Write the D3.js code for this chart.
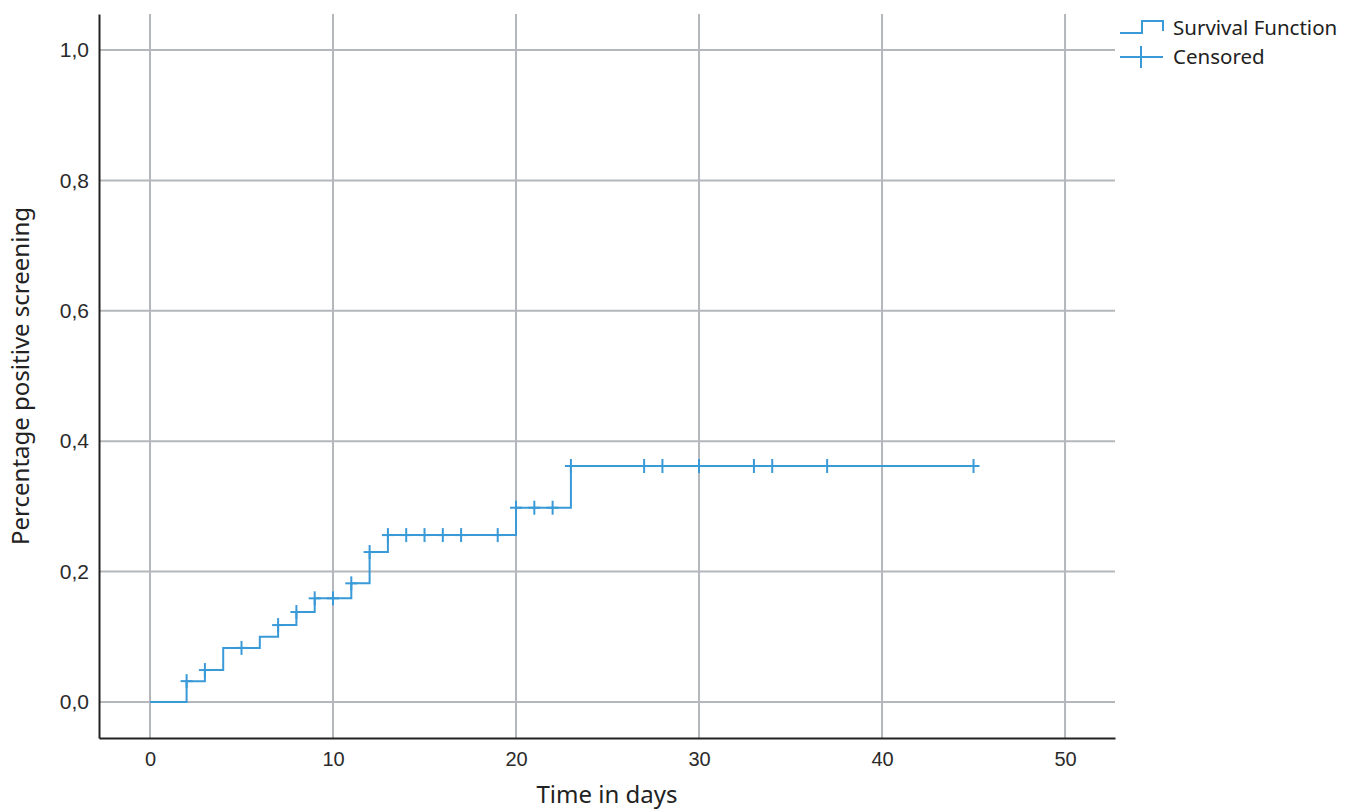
<!DOCTYPE html>
<html><head><meta charset="utf-8">
<script src="https://cdn.jsdelivr.net/npm/d3@7"></script>
<style>body{margin:0;background:#fff}</style>
</head><body>
<script>
const stepTimes  = [0, 2, 3, 4, 6, 7, 8, 9, 11, 12, 13, 20, 23];
const stepValues = [0, 0.032, 0.049, 0.083, 0.100, 0.118, 0.138, 0.159, 0.182, 0.230, 0.256, 0.298, 0.362];
const censoredTimes = [2, 3, 5, 7, 8, 9, 10, 11, 12, 13, 14, 15, 16, 17, 19, 20, 21, 22, 23, 27, 28, 30, 33, 34, 37, 45];
const endTime = 45;
const xTicks = [0, 10, 20, 30, 40, 50];
const yTicks = [0, 0.2, 0.4, 0.6, 0.8, 1.0];
const legendLabels = ["Survival Function", "Censored"];

const W = 1352, H = 811;
const col = "#3a9ad8", grid = "#b4b7bb";
const svg = d3.select("body").append("svg").attr("width", W).attr("height", H);

const x = d3.scaleLinear().domain([-2.787, 52.73]).range([99, 1115]);
const y = d3.scaleLinear().domain([-0.0552, 1.0552]).range([738, 14]);

// grid
svg.append("g").selectAll("line").data(xTicks).join("line")
  .attr("x1", d => x(d)).attr("x2", d => x(d)).attr("y1", 14).attr("y2", 738)
  .attr("stroke", grid).attr("stroke-width", 2);
svg.append("g").selectAll("line").data(yTicks).join("line")
  .attr("x1", 99).attr("x2", 1115).attr("y1", d => y(d)).attr("y2", d => y(d))
  .attr("stroke", grid).attr("stroke-width", 2);

// axes
const xAxis = d3.axisBottom(x).tickValues(xTicks).tickSize(0).tickPadding(14);
const gx = svg.append("g").attr("transform", "translate(0,738)").call(xAxis);
gx.select(".domain").attr("stroke", "#222").attr("stroke-width", 2);
gx.selectAll("text").style("font-family", "Liberation Sans, Arial, sans-serif").style("font-size", "20px").attr("fill", "#2a2a2a");

const fmt = d => d3.format(".1f")(d).replace(".", ",");
const yAxis = d3.axisLeft(y).tickValues(yTicks).tickFormat(fmt).tickSize(0).tickPadding(10);
const gy = svg.append("g").attr("transform", "translate(99,0)").call(yAxis);
gy.select(".domain").attr("stroke", "#222").attr("stroke-width", 2);
gy.selectAll("text").style("font-family", "Liberation Sans, Arial, sans-serif").style("font-size", "21px").attr("fill", "#2a2a2a");

// titles
svg.append("text").attr("x", 607).attr("y", 803).attr("text-anchor", "middle")
  .style("font-family", "Noto Sans, sans-serif").style("font-size", "24px").attr("fill", "#222").text("Time in days");
svg.append("text").attr("transform", "translate(29,376) rotate(-90)").attr("text-anchor", "middle")
  .style("font-family", "Noto Sans, sans-serif").style("font-size", "24px").attr("fill", "#222").text("Percentage positive screening");

// step line
const pts = stepTimes.map((t, i) => [t, stepValues[i]]);
pts.push([endTime, stepValues[stepValues.length - 1]]);
const line = d3.line().x(d => x(d[0])).y(d => y(d[1])).curve(d3.curveStepAfter);
svg.append("path").datum(pts).attr("d", line).attr("fill", "none")
  .attr("stroke", col).attr("stroke-width", 2);

// censored marks
const valueAt = t => { let v = 0; stepTimes.forEach((s, i) => { if (s <= t) v = stepValues[i]; }); return v; };
const cg = svg.append("g").attr("stroke", col).attr("stroke-width", 2);
censoredTimes.forEach(t => {
  const cx = x(t), cy = y(valueAt(t));
  cg.append("line").attr("x1", cx - 6).attr("x2", cx + 6).attr("y1", cy).attr("y2", cy);
  cg.append("line").attr("x1", cx).attr("x2", cx).attr("y1", cy - 7).attr("y2", cy + 7);
});

// legend
const lg = svg.append("g");
lg.append("path").attr("d", "M1120,33H1142V21H1163V31").attr("fill", "none").attr("stroke", col).attr("stroke-width", 2);
lg.append("line").attr("x1", 1120).attr("x2", 1163).attr("y1", 57).attr("y2", 57).attr("stroke", col).attr("stroke-width", 2);
lg.append("line").attr("x1", 1141).attr("x2", 1141).attr("y1", 46).attr("y2", 68).attr("stroke", col).attr("stroke-width", 2);
lg.selectAll("text").data(legendLabels).join("text")
  .attr("x", 1173).attr("y", (d, i) => 35 + i * 29)
  .style("font-family", "Noto Sans, sans-serif").style("font-size", "20.5px").attr("fill", "#222").text(d => d);
</script>
</body></html>
